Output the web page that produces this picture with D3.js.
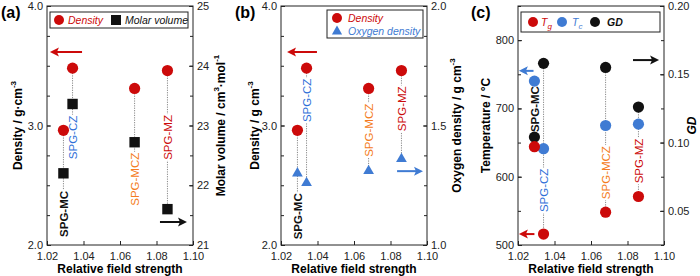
<!DOCTYPE html>
<html><head><meta charset="utf-8">
<script src="https://cdn.jsdelivr.net/npm/d3@7/dist/d3.min.js"></script>
<style>body{margin:0;background:#fff} text{font-family:"Liberation Sans",Arial,sans-serif}</style>
</head><body><svg id="c" width="700" height="276"></svg>
<script>
// ---- data ----
const compositions = ["SPG-MC", "SPG-CZ", "SPG-MCZ", "SPG-MZ"];
const fieldStrength = [1.029, 1.034, 1.068, 1.086];
const density = [2.96, 3.48, 3.31, 3.46];
const molarVolume = [22.20, 23.36, 22.72, 21.60];
const oxygenDensity = [1.30, 1.26, 1.31, 1.36];
const tg = [644, 516, 548, 571];
const tc = [740, 641, 675, 677];
const gd = [0.104, 0.158, 0.155, 0.126];
const xTicks = [1.02, 1.04, 1.06, 1.08, 1.10];
const densityTicks = [2.0, 3.0, 4.0];
const molarTicks = [21, 22, 23, 24, 25];
const oxygenTicks = [1.0, 1.5, 2.0];
const tempTicks = [500, 600, 700, 800];
const gdTicks = [0.05, 0.10, 0.15, 0.20];

// ---- styles ----
const RED = "#cc0a0a", BLUE = "#3f7bd3", ORANGE = "#f47b20", BLACK = "#111";
const labelColors = [BLACK, "#2f6fd8", ORANGE, RED];
const labelWeights = ["bold", "normal", "normal", "normal"];
const svg = d3.select("#c");
const TOP = 6, BOT = 245;

function sup(t, s, size) {
  t.append("tspan").attr("dy", -5).attr("font-size", size).text(s);
  return t;
}

function panel(cfg) {
  const g = svg.append("g");
  const x = d3.scaleLinear().domain([1.02, 1.10]).range([cfg.x0, cfg.x1]);
  const yl = d3.scaleLinear().domain(cfg.leftDomain).range([BOT, TOP]);
  const yr = d3.scaleLinear().domain(cfg.rightDomain).range([BOT, TOP]);

  // minor ticks
  const minor = (dom, step) => d3.range(Math.ceil(dom[0] / step - 1e-9), Math.floor(dom[1] / step + 1e-9) + 1).map(k => +(k * step).toFixed(6));
  g.append("g").attr("transform", `translate(${cfg.x0},0)`)
    .call(d3.axisLeft(yl).tickValues(minor(cfg.leftDomain, cfg.leftMinor)).tickSize(-3).tickFormat(""))
    .call(a => a.select(".domain").remove());
  g.append("g").attr("transform", `translate(${cfg.x1},0)`)
    .call(d3.axisRight(yr).tickValues(minor(cfg.rightDomain, cfg.rightMinor)).tickSize(-3).tickFormat(""))
    .call(a => a.select(".domain").remove());
  // major axes
  const la = g.append("g").attr("transform", `translate(${cfg.x0},0)`)
    .call(d3.axisLeft(yl).tickValues(cfg.leftTicks).tickSize(-4).tickPadding(4).tickFormat(d3.format(cfg.leftFmt)));
  const ra = g.append("g").attr("transform", `translate(${cfg.x1},0)`)
    .call(d3.axisRight(yr).tickValues(cfg.rightTicks).tickSize(-4).tickPadding(4).tickFormat(d3.format(cfg.rightFmt)));
  const ba = g.append("g").attr("transform", `translate(0,${BOT})`)
    .call(d3.axisBottom(x).tickValues(xTicks).tickSize(-4).tickPadding(7).tickFormat(d3.format(".2f")));
  [la, ra, ba].forEach(a => {
    a.select(".domain").remove();
    a.selectAll("text").attr("font-size", 11).attr("fill", "#222").style("font-family", '"Liberation Sans",Arial,sans-serif');
    a.selectAll("line").attr("stroke", "#222");
  });
  g.selectAll(".tick line").attr("stroke", "#222");
  g.append("rect").attr("x", cfg.x0).attr("y", TOP).attr("width", cfg.x1 - cfg.x0).attr("height", BOT - TOP)
    .attr("fill", "none").attr("stroke", "#222").attr("stroke-width", 1);

  // axis titles
  const cx = (cfg.x0 + cfg.x1) / 2, cy = (TOP + BOT) / 2;
  g.append("text").attr("x", cx).attr("y", 273).attr("text-anchor", "middle")
    .attr("font-size", 12).attr("font-weight", "bold").text("Relative field strength");
  cfg.leftTitle(g.append("text").attr("transform", `translate(${cfg.leftTitleX},${cy}) rotate(-90)`)
    .attr("text-anchor", "middle").attr("dominant-baseline", "central").attr("font-size", 12).attr("font-weight", "bold"));
  cfg.rightTitle(g.append("text").attr("transform", `translate(${cfg.rightTitleX},${cy}) rotate(-90)`)
    .attr("text-anchor", "middle").attr("dominant-baseline", "central").attr("font-size", 12).attr("font-weight", "bold"));
  // panel letter
  g.append("text").attr("x", cfg.letterX).attr("y", 18).attr("font-size", 16).attr("font-weight", "bold").text(cfg.letter);

  // series pixel positions
  const seriesPx = cfg.series.map(s => s.values.map((v, i) => ({ px: x(fieldStrength[i]), py: (s.axis === "left" ? yl : yr)(v) })));

  // dotted connectors + labels
  compositions.forEach((name, i) => {
    const px = x(fieldStrength[i]);
    const ly = yl(cfg.labelPos[i]);
    const lab = g.append("text").attr("font-size", 11.5).attr("font-weight", labelWeights[i]).text(name);
    const len = lab.node().getComputedTextLength();
    lab.remove();
    const ys = seriesPx.map(s => s[i].py).concat([ly - len / 2, ly + len / 2]);
    g.append("line").attr("x1", px).attr("x2", px).attr("y1", d3.min(ys)).attr("y2", d3.max(ys))
      .attr("stroke", "#888").attr("stroke-width", 1).attr("stroke-dasharray", "1.2,1.2");
    g.append("rect").attr("x", px - 5.5).attr("y", ly - len / 2 - 1).attr("width", 11).attr("height", len + 2).attr("fill", "#fff");
    g.append("text").attr("transform", `translate(${px + 0.5},${ly}) rotate(-90)`)
      .attr("text-anchor", "middle").attr("dominant-baseline", "central")
      .attr("font-size", 11.5).attr("font-weight", labelWeights[i]).attr("fill", labelColors[i]).text(name);
  });

  // marks
  cfg.series.forEach((s, k) => {
    const pts = seriesPx[k];
    if (s.shape === "circle") {
      g.selectAll(null).data(pts).join("circle").attr("cx", d => d.px).attr("cy", d => d.py).attr("r", 5.6).attr("fill", s.color);
    } else if (s.shape === "square") {
      g.selectAll(null).data(pts).join("rect").attr("x", d => d.px - 5.2).attr("y", d => d.py - 5.2).attr("width", 10.4).attr("height", 10.4).attr("fill", s.color);
    } else {
      g.selectAll(null).data(pts).join("path").attr("transform", d => `translate(${d.px},${d.py})`)
        .attr("d", d3.symbol(d3.symbolTriangle, 50)).attr("fill", s.color);
    }
  });

  // arrows
  cfg.arrows.forEach(a => {
    const ys = (a.axis === "left" ? yl : yr)(a.y);
    const xa = x(a.from), xb = x(a.to);
    const dir = Math.sign(xb - xa);
    g.append("line").attr("x1", xa).attr("x2", xb - dir * 6).attr("y1", ys).attr("y2", ys).attr("stroke", a.color).attr("stroke-width", 2);
    g.append("path").attr("d", `M${xb},${ys} L${xb - dir * 9},${ys - 4.5} L${xb - dir * 7},${ys} L${xb - dir * 9},${ys + 4.5} Z`).attr("fill", a.color);
  });

  // legend
  const L = cfg.legend;
  g.append("rect").attr("x", L.x).attr("y", L.y).attr("width", L.w).attr("height", L.h).attr("fill", "#fff").attr("stroke", "#222").attr("stroke-width", 1);
  L.items.forEach(it => {
    if (it.shape === "circle") g.append("circle").attr("cx", it.mx).attr("cy", it.my).attr("r", 5).attr("fill", it.color);
    else if (it.shape === "square") g.append("rect").attr("x", it.mx - 5).attr("y", it.my - 5).attr("width", 10).attr("height", 10).attr("fill", it.color);
    else g.append("path").attr("transform", `translate(${it.mx},${it.my})`).attr("d", d3.symbol(d3.symbolTriangle, 45)).attr("fill", it.color);
    const t = g.append("text").attr("x", it.tx).attr("y", it.my + 3.5).attr("font-size", 10.5).attr("font-style", "italic").attr("fill", it.tcolor || it.color);
    it.label(t);
  });
}

panel({
  letter: "(a)", letterX: 1, x0: 47, x1: 193,
  leftDomain: [2, 4], rightDomain: [21, 25], leftTicks: densityTicks, rightTicks: molarTicks,
  leftFmt: ".1f", rightFmt: "d", leftMinor: 0.25, rightMinor: 0.5,
  leftTitleX: 18, rightTitleX: 221,
  leftTitle: t => sup(t.text("Density / g·cm"), "-3", 8),
  rightTitle: t => { t.text("Molar volume / cm"); t.append("tspan").attr("dy", -5).attr("font-size", 8).text("3"); t.append("tspan").attr("dy", 5).text("·mol"); t.append("tspan").attr("dy", -5).attr("font-size", 8).text("-1"); },
  series: [
    { values: density, axis: "left", shape: "circle", color: RED },
    { values: molarVolume, axis: "right", shape: "square", color: BLACK }
  ],
  labelPos: [2.26, 2.90, 2.55, 2.90],
  arrows: [
    { axis: "left", y: 3.615, from: 1.0392, to: 1.0216, color: RED },
    { axis: "right", y: 21.385, from: 1.0819, to: 1.0967, color: BLACK }
  ],
  legend: { x: 50, y: 12, w: 138, h: 16, items: [
    { shape: "circle", mx: 59, my: 20, tx: 68, color: RED, label: t => t.text("Density") },
    { shape: "square", mx: 116, my: 20, tx: 125, color: BLACK, label: t => t.text("Molar volume") }
  ] }
});

panel({
  letter: "(b)", letterX: 235, x0: 281, x1: 427,
  leftDomain: [2, 4], rightDomain: [1, 2], leftTicks: densityTicks, rightTicks: oxygenTicks,
  leftFmt: ".1f", rightFmt: ".1f", leftMinor: 0.25, rightMinor: 0.125,
  leftTitleX: 255, rightTitleX: 457,
  leftTitle: t => sup(t.text("Density / g cm"), "-3", 8),
  rightTitle: t => sup(t.text("Oxygen density / g cm"), "-3", 8),
  series: [
    { values: density, axis: "left", shape: "circle", color: RED },
    { values: oxygenDensity, axis: "right", shape: "triangle", color: BLUE }
  ],
  labelPos: [2.24, 3.21, 2.96, 3.14],
  arrows: [
    { axis: "left", y: 3.615, from: 1.0397, to: 1.0233, color: RED },
    { axis: "right", y: 1.309, from: 1.0836, to: 1.0978, color: BLUE }
  ],
  legend: { x: 327, y: 10, w: 96, h: 28, items: [
    { shape: "circle", mx: 337, my: 18, tx: 348, color: RED, label: t => t.text("Density") },
    { shape: "triangle", mx: 337, my: 31.5, tx: 348, color: BLUE, label: t => t.text("Oxygen density") }
  ] }
});

panel({
  letter: "(c)", letterX: 471, x0: 518, x1: 664,
  leftDomain: [500, 850], rightDomain: [0.025, 0.20], leftTicks: tempTicks, rightTicks: gdTicks,
  leftFmt: "d", rightFmt: ".2f", leftMinor: 50, rightMinor: 0.025,
  leftTitleX: 486, rightTitleX: 692,
  leftTitle: t => t.text("Temperature / °C"),
  rightTitle: t => t.attr("font-style", "italic").text("GD"),
  series: [
    { values: gd, axis: "right", shape: "circle", color: BLACK },
    { values: tc, axis: "left", shape: "circle", color: BLUE },
    { values: tg, axis: "left", shape: "circle", color: RED }
  ],
  labelPos: [699, 580, 606, 623],
  arrows: [
    { axis: "left", y: 755, from: 1.0285, to: 1.0205, color: BLUE },
    { axis: "right", y: 0.1604, from: 1.083, to: 1.0973, color: BLACK },
    { axis: "left", y: 516, from: 1.029, to: 1.0205, color: RED }
  ],
  legend: { x: 521, y: 12, w: 139, h: 20, items: [
    { shape: "circle", mx: 533, my: 22, tx: 541, color: RED, label: t => { t.text("T"); t.append("tspan").attr("dy", 3).attr("font-size", 8).text("g"); } },
    { shape: "circle", mx: 562, my: 22, tx: 572, color: BLUE, label: t => { t.text("T"); t.append("tspan").attr("dy", 3).attr("font-size", 8).text("c"); } },
    { shape: "circle", mx: 595, my: 22, tx: 607, color: BLACK, label: t => t.attr("font-weight", "bold").text("GD") }
  ] }
});
</script></body></html>
